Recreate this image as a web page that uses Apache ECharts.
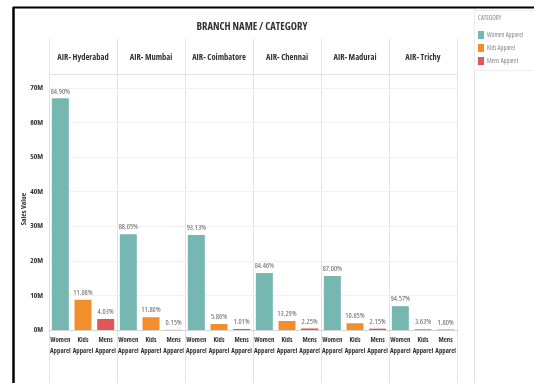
<!DOCTYPE html>
<html>
<head>
<meta charset="utf-8">
<script src="https://cdn.jsdelivr.net/npm/echarts@6/dist/echarts.min.js"></script>
<style>
  html, body { margin: 0; padding: 0; background: #fff; }
  #chart { width: 534px; height: 383px; }
</style>
</head>
<body>
<div id="chart"></div>
<script>
// Sales value (millions) by branch and category, with each category's share of the branch total
const branches = ['AIR- Hyderabad', 'AIR- Mumbai', 'AIR- Coimbatore', 'AIR- Chennai', 'AIR- Madurai', 'AIR- Trichy'];
const categories = ['Women Apparel', 'Kids Apparel', 'Mens Apparel'];
const axisCategories = ['Women\nApparel', 'Kids\nApparel', 'Mens\nApparel'];
const womenSales = [67.0, 27.7, 27.5, 16.5, 15.6, 6.9];
const kidsSales = [8.75, 3.7, 1.73, 2.6, 1.95, 0.26];
const mensSales = [3.18, 0.05, 0.30, 0.44, 0.39, 0.13];
const womenShare = ['84.90%', '88.05%', '93.13%', '84.46%', '87.00%', '94.57%'];
const kidsShare = ['11.08%', '11.80%', '5.86%', '13.29%', '10.85%', '3.63%'];
const mensShare = ['4.03%', '0.15%', '1.01%', '2.25%', '2.15%', '1.80%'];
const yTicks = [0, 10, 20, 30, 40, 50, 60, 70];

const colors = ['#76b7b2', '#f28e2b', '#e15759'];
const FONT = "'Open Sans', 'Roboto', sans-serif";
// narrow face of the font for all chart text
const STRETCH = 'condensed';

const panelLeft = 49, panelWidth = 68, plotTop = 88, plotBottom = 330;
const H = 383;

const chart = echarts.init(document.getElementById('chart'), null, { renderer: 'canvas' });

const grids = [], xAxes = [], yAxes = [], series = [], titles = [];
const salesByCat = [womenSales, kidsSales, mensSales];
const shareByCat = [womenShare, kidsShare, mensShare];

branches.forEach((b, i) => {
  const left = panelLeft + i * panelWidth;
  grids.push({ left: left, width: panelWidth, top: plotTop, bottom: H - plotBottom, containLabel: false });
  xAxes.push({
    type: 'category', gridIndex: i, data: axisCategories,
    axisLine: { show: true, lineStyle: { color: '#d4d4d4', width: 1 } },
    axisTick: { show: false },
    axisLabel: { interval: 0, color: '#333', fontFamily: FONT, fontStyle: STRETCH, fontWeight: 'bold', fontSize: 6.8, lineHeight: 11, margin: 5 }
  });
  yAxes.push({
    type: 'value', gridIndex: i, min: yTicks[0], max: yTicks[yTicks.length - 1], interval: 10,
    axisLine: { show: false }, axisTick: { show: false },
    splitLine: { show: true, lineStyle: { color: '#f1f1f1', width: 1 } },
    axisLabel: i === 0
      ? { show: true, color: '#333', fontFamily: FONT, fontStyle: STRETCH, fontWeight: 'bold', fontSize: 7.5, margin: 6, formatter: v => v + 'M' }
      : { show: false },
    name: i === 0 ? 'Sales Value' : '',
    nameLocation: 'middle', nameRotate: 90, nameGap: 21, nameMoveOverlap: false,
    nameTextStyle: { color: '#333', fontFamily: FONT, fontStyle: STRETCH, fontWeight: 'bold', fontSize: 7.5 }
  });
  titles.push({
    text: b, left: left + panelWidth / 2, top: 53, textAlign: 'center', padding: 0,
    textStyle: { color: '#333', fontFamily: FONT, fontStyle: STRETCH, fontWeight: 'bold', fontSize: 8.5 }
  });
  categories.forEach((c, k) => {
    const data = axisCategories.map((_, j) => (j === k ? salesByCat[k][i] : '-'));
    series.push({
      name: c, type: 'bar', xAxisIndex: i, yAxisIndex: i, stack: 'branch' + i,
      barWidth: 17,
      data: data,
      itemStyle: { color: colors[k] },
      label: {
        show: true, position: 'top', distance: 3,
        color: '#666', fontFamily: FONT, fontStyle: STRETCH, fontSize: 7.5,
        formatter: () => shareByCat[k][i]
      }
    });
  });
});

titles.push({
  text: 'BRANCH NAME / CATEGORY', left: 252, top: 22, textAlign: 'center', padding: 0,
  textStyle: { color: '#333', fontFamily: FONT, fontStyle: STRETCH, fontWeight: 'bold', fontSize: 10.5 }
});
titles.push({
  text: 'CATEGORY', left: 478, top: 15, padding: 0,
  textStyle: { color: '#888', fontFamily: FONT, fontStyle: STRETCH, fontWeight: 'normal', fontSize: 6.5 }
});

// Panel frame: outer border, header rules and branch dividers
const graphics = [];
const gray = '#e3e3e3';
graphics.push({ type: 'line', shape: { x1: 13, y1: 7.5, x2: 534, y2: 7.5 }, style: { stroke: '#000', lineWidth: 2 }, z: 10 });
graphics.push({ type: 'line', shape: { x1: 13.5, y1: 7, x2: 13.5, y2: H }, style: { stroke: '#000', lineWidth: 2.5 }, z: 10 });
graphics.push({ type: 'line', shape: { x1: 474.5, y1: 8, x2: 474.5, y2: H }, style: { stroke: gray, lineWidth: 1 } });
graphics.push({ type: 'rect', shape: { x: 474.5, y: 10.5, width: 60, height: 60 }, style: { fill: 'none', stroke: '#eeeeee', lineWidth: 1 } });
graphics.push({ type: 'line', shape: { x1: panelLeft, y1: 74.5, x2: panelLeft + 6 * panelWidth, y2: 74.5 }, style: { stroke: gray, lineWidth: 1 } });
for (let i = 0; i <= branches.length; i++) {
  const x = panelLeft + i * panelWidth + 0.5;
  graphics.push({ type: 'line', shape: { x1: x, y1: 39, x2: x, y2: H }, style: { stroke: gray, lineWidth: 1 } });
}

chart.setOption({
  animation: false,
  backgroundColor: '#fff',
  color: colors,
  title: titles,
  legend: {
    data: categories, orient: 'vertical', left: 478, top: 31, padding: 0,
    itemWidth: 6, itemHeight: 8, itemGap: 5,
    icon: 'rect',
    textStyle: { color: '#888', fontFamily: FONT, fontStyle: STRETCH, fontSize: 6.5, padding: [0, 0, 0, -2] },
    selectedMode: false
  },
  grid: grids,
  xAxis: xAxes,
  yAxis: yAxes,
  series: series,
  graphic: graphics
});
</script>
</body>
</html>
